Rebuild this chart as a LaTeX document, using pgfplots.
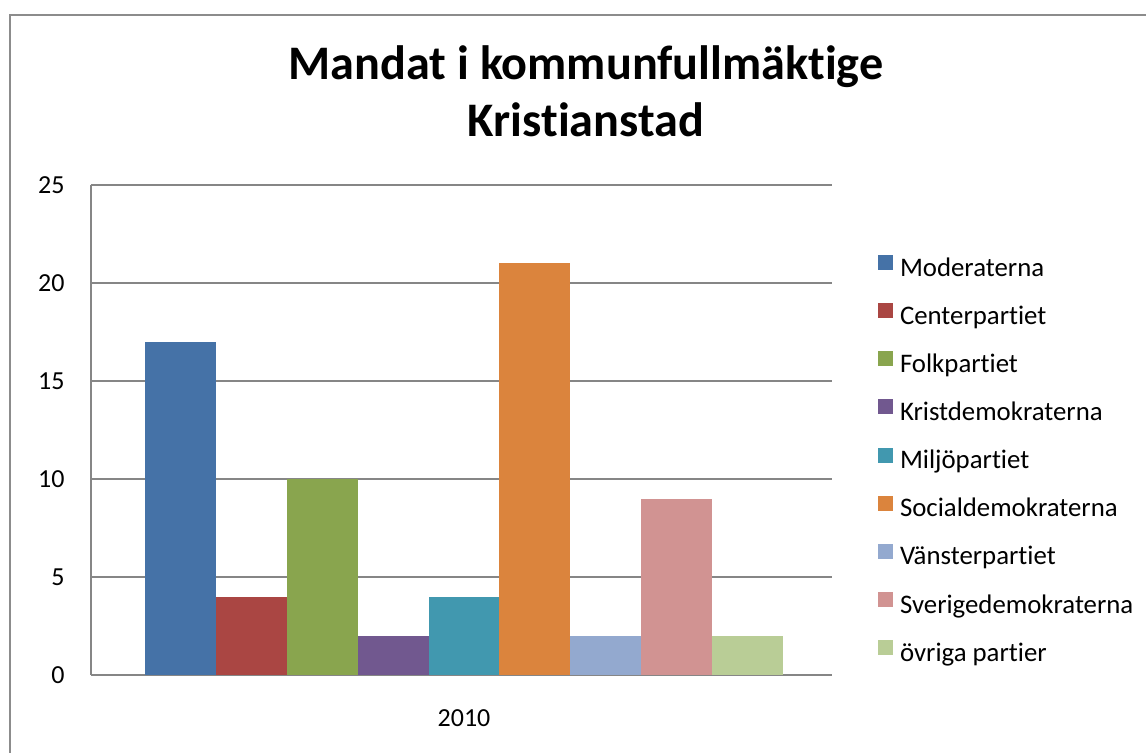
\documentclass[border=0pt]{standalone}
\usepackage{fontspec}
\setmainfont{Carlito}[Ligatures=NoCommon]
\newcommand\tI{t\kern0pt i}
\usepackage{pgfplots}
\pgfplotsset{compat=1.18}
\definecolor{cMod}{HTML}{4572A7}
\definecolor{cCen}{HTML}{AA4643}
\definecolor{cFol}{HTML}{89A54E}
\definecolor{cKri}{HTML}{71588F}
\definecolor{cMil}{HTML}{4198AF}
\definecolor{cSoc}{HTML}{DB843D}
\definecolor{cVan}{HTML}{93A9CF}
\definecolor{cSve}{HTML}{D19392}
\definecolor{cOvr}{HTML}{B9CD96}
\definecolor{gridgray}{HTML}{868686}
\definecolor{framegray}{HTML}{8C8C8C}
\pgfplotsset{
  sw/.style={fill=#1, draw=none,
    legend image code/.code={\fill[#1] (0pt,0pt) rectangle (7.5pt,7.5pt);}},
}
\begin{document}
\begin{tikzpicture}
\useasboundingbox (0,0) rectangle (573pt,376.5pt);
\fill[white] (0,0) rectangle (573pt,376.5pt);
% outer frame (top and left visible)
\draw[framegray, line width=1pt] (5pt,0pt) -- (5pt,369pt) -- (573pt,369pt);
% title
\node[anchor=base, font=\fontsize{24.1pt}{29pt}\selectfont\bfseries, inner sep=0pt] at (293pt,336.5pt) {Mandat i kommunfullmäk\tI ge};
\node[anchor=base, font=\fontsize{24.1pt}{29pt}\selectfont\bfseries, inner sep=0pt] at (293pt,308pt) {Kris\tI anstad};
\begin{axis}[
  at={(45.5pt,39pt)}, anchor=south west,
  scale only axis, width=370.5pt, height=245pt,
  ybar=0pt, bar width=35.45pt,
  xmin=-0.5034, xmax=0.4966,
  ymin=0, ymax=25,
  ytick={0,5,10,15,20,25},
  xtick={0}, xticklabels={2010},
  axis x line=bottom, axis y line=left,
  axis line style={draw=gridgray, line width=0.6pt, -},
  major tick length=0pt,
  ymajorgrids,
  major grid style={draw=gridgray, line width=0.55pt},
  /pgf/number format/assume math mode=true,
  yticklabel style={anchor=east, inner sep=0pt, xshift=-13pt, font=\fontsize{13pt}{15pt}\selectfont},
  xticklabel style={anchor=center, inner sep=0pt, yshift=-21.75pt, font=\fontsize{13pt}{15pt}\selectfont},
  legend style={draw=none, fill=none, at={(1.0621,0.857)}, anchor=north west,
    inner sep=0pt, outer sep=0pt, row sep=10.57pt,
    font=\fontsize{13.4pt}{16pt}\selectfont,
    nodes={inner sep=0pt, text height=9pt, text depth=3pt},
    cells={anchor=base west},
    /tikz/every odd column/.style={column sep=3.5pt}},
  legend cell align=left,
]
\addplot[sw=cMod] coordinates {(0,17)};
\addplot[sw=cCen] coordinates {(0,4)};
\addplot[sw=cFol] coordinates {(0,10)};
\addplot[sw=cKri] coordinates {(0,2)};
\addplot[sw=cMil] coordinates {(0,4)};
\addplot[sw=cSoc] coordinates {(0,21)};
\addplot[sw=cVan] coordinates {(0,2)};
\addplot[sw=cSve] coordinates {(0,9)};
\addplot[sw=cOvr] coordinates {(0,2)};
\legend{Moderaterna,Centerpar\tI et,Folkpar\tI et,Kristdemokraterna,Miljöpar\tI et,Socialdemokraterna,Vänsterpar\tI et,Sverigedemokraterna,övriga par\tI er}
\end{axis}
\end{tikzpicture}
\end{document}
